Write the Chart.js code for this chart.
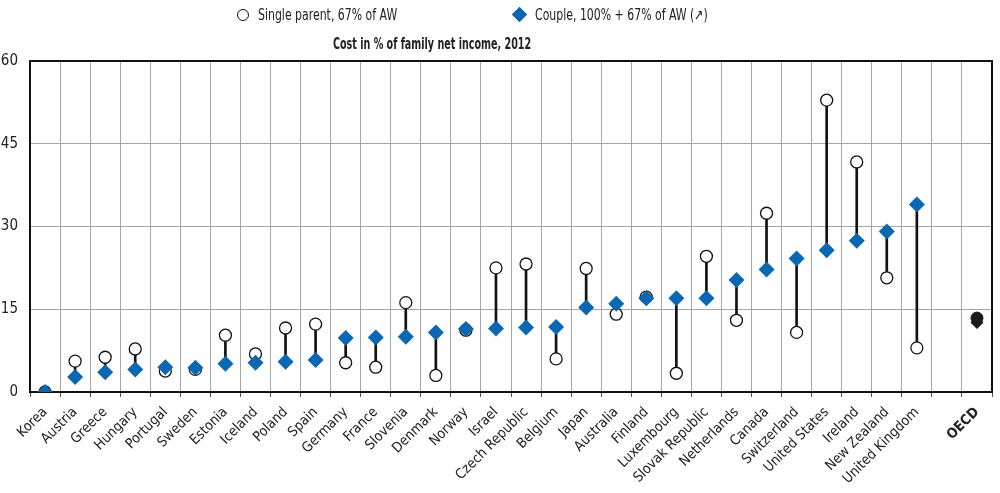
<!DOCTYPE html>
<html>
<head>
<meta charset="utf-8">
<script src="https://cdn.jsdelivr.net/npm/chart.js@4.4.0/dist/chart.umd.min.js"></script>
<style>
  body { margin: 0; background: #fff; }
  #wrap { position: relative; width: 1000px; height: 493px; font-family: "Liberation Sans Narrow", "DejaVu Sans Condensed", "Arial Narrow", sans-serif; color: #222; }
  #chart { position: absolute; left: 0; top: 0; }
  .lg { position: absolute; font-size: 15px; line-height: 16px; white-space: nowrap; transform: scaleX(0.81); transform-origin: left center; }
  .circ { position: absolute; width: 10px; height: 10px; border: 1.4px solid #111; border-radius: 50%; background: #fff; }
  .diam { position: absolute; width: 11px; height: 11px; background: #0b67b2; transform: rotate(45deg); }
  #title { position: absolute; left: 333px; top: 35px; font-size: 15px; font-weight: bold; white-space: nowrap; transform: scaleX(0.71); transform-origin: left center; }
</style>
</head>
<body>
<div id="wrap">
  <canvas id="chart" width="1000" height="493"></canvas>
  <span class="circ" style="left:237px; top:9px;"></span>
  <span class="lg" style="left:258px; top:7px;">Single parent, 67% of AW</span>
  <span class="diam" style="left:514px; top:9px;"></span>
  <span class="lg" style="left:535px; top:7px;">Couple, 100% + 67% of AW (↗)</span>
  <div id="title">Cost in % of family net income, 2012</div>
</div>
<script>
const countries = ["Korea", "Austria", "Greece", "Hungary", "Portugal", "Sweden", "Estonia", "Iceland", "Poland", "Spain",
  "Germany", "France", "Slovenia", "Denmark", "Norway", "Israel", "Czech Republic", "Belgium", "Japan", "Australia",
  "Finland", "Luxembourg", "Slovak Republic", "Netherlands", "Canada", "Switzerland", "United States", "Ireland",
  "New Zealand", "United Kingdom", "", "OECD"];
const singleParent = [0, 5.6, 6.3, 7.8, 3.8, 4.1, 10.3, 6.9, 11.6, 12.3,
  5.3, 4.5, 16.2, 3.0, 11.2, 22.5, 23.2, 6.0, 22.4, 14.1,
  17.2, 3.4, 24.6, 13.0, 32.4, 10.8, 52.9, 41.7, 20.7, 8.0, null, 13.4];
const couple = [0, 2.7, 3.6, 4.1, 4.5, 4.4, 5.1, 5.3, 5.5, 5.8,
  9.8, 9.9, 10.0, 10.8, 11.4, 11.5, 11.7, 11.8, 15.3, 16.0,
  17.0, 17.0, 17.0, 20.3, 22.2, 24.2, 25.7, 27.4, 29.1, 34.0, null, 12.6];
const yTicks = [0, 15, 30, 45, 60];

const BLUE = "#0b67b2";
const fontFam = '"Liberation Sans Narrow", "DejaVu Sans Condensed", "Arial Narrow", sans-serif';

// vertical connector between the two markers
const connectors = singleParent.map((s, i) =>
  s == null || couple[i] == null ? null : [Math.min(s, couple[i]), Math.max(s, couple[i])]
);
const isOecd = countries.map((c) => c === "OECD");

const framePlugin = {
  id: "frame",
  beforeDatasetsDraw(chart) {
    const { ctx, chartArea: a } = chart;
    ctx.save();
    ctx.strokeStyle = "#111";
    ctx.lineWidth = 2;
    ctx.strokeRect(a.left, a.top, a.right - a.left, a.bottom - a.top);
    ctx.restore();
  },
};

new Chart(document.getElementById("chart"), {
  type: "bar",
  data: {
    labels: countries,
    datasets: [
      {
        type: "line",
        label: "Single parent, 67% of AW (OECD)",
        data: singleParent.map((v, i) => (isOecd[i] ? v : null)),
        showLine: false,
        pointStyle: "circle",
        pointRadius: 6,
        pointBackgroundColor: "#1a1a1a",
        pointBorderColor: "#1a1a1a",
        pointBorderWidth: 1,
        order: 0,
      },
      {
        type: "line",
        label: "Couple, 100% + 67% of AW",
        data: couple,
        showLine: false,
        pointStyle: "rectRot",
        pointRadius: isOecd.map((o) => (o ? 6.5 : 8)),
        pointBackgroundColor: isOecd.map((o) => (o ? "#1a1a1a" : BLUE)),
        pointBorderColor: isOecd.map((o) => (o ? "#1a1a1a" : BLUE)),
        pointBorderWidth: 0,
        order: 1,
      },
      {
        type: "line",
        label: "Single parent, 67% of AW",
        data: singleParent.map((v, i) => (isOecd[i] ? null : v)),
        showLine: false,
        pointStyle: "circle",
        pointRadius: 6,
        pointBackgroundColor: "#fff",
        pointBorderColor: "#111",
        pointBorderWidth: 1.3,
        order: 2,
      },
      {
        label: "range",
        data: connectors,
        backgroundColor: "#111",
        barThickness: 2,
        order: 3,
      },
    ],
  },
  options: {
    responsive: false,
    animation: false,
    layout: { padding: { top: 61, right: 3, left: 0, bottom: 0 } },
    plugins: {
      legend: { display: false },
      tooltip: { enabled: false },
    },
    scales: {
      x: {
        grid: { color: "#a6a6a6", lineWidth: 1, offset: true, drawTicks: true, tickLength: 5, tickColor: "#555" },
        border: { color: "#111", width: 2 },
        ticks: {
          color: "#222",
          maxRotation: 45,
          minRotation: 45,
          autoSkip: false,
          padding: 7,
          font: (ctx) => ({ family: fontFam, size: 14, weight: isOecd[ctx.index] ? "bold" : "normal" }),
        },
        afterFit: (scale) => { scale.height = 101; },
      },
      y: {
        min: 0,
        max: 60,
        afterBuildTicks: (scale) => { scale.ticks = yTicks.map((v) => ({ value: v })); },
        grid: { color: "#a6a6a6", lineWidth: 1, drawTicks: false },
        border: { color: "#111", width: 2 },
        ticks: { color: "#222", padding: 12, font: { family: fontFam, size: 15 } },
        afterFit: (scale) => { scale.width = 30; },
      },
    },
  },
  plugins: [framePlugin],
});
</script>
</body>
</html>
